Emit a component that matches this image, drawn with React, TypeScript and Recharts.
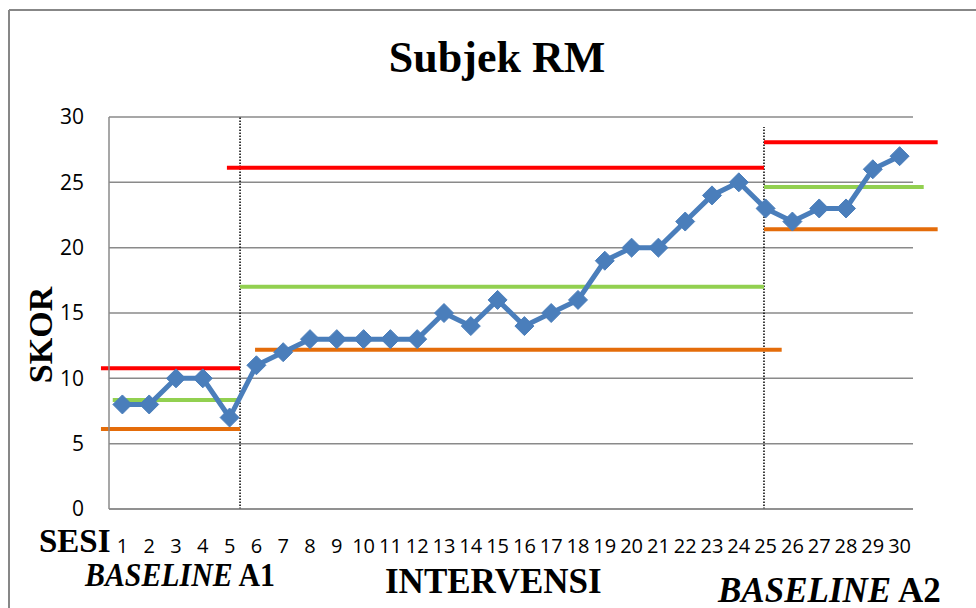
import React from 'react';
import { ComposedChart, Line, XAxis, YAxis, CartesianGrid, ReferenceLine } from 'recharts';

// Sessions and scores
const sessions = [1, 2, 3, 4, 5, 6, 7, 8, 9, 10, 11, 12, 13, 14, 15, 16, 17, 18, 19, 20, 21, 22, 23, 24, 25, 26, 27, 28, 29, 30];
const scores = [8, 8, 10, 10, 7, 11, 12, 13, 13, 13, 13, 13, 15, 14, 16, 14, 15, 16, 19, 20, 20, 22, 24, 25, 23, 22, 23, 23, 26, 27];
const yTicks = [0, 5, 10, 15, 20, 25, 30];

// Phase bands: [xStart, xEnd, value]
const upperLines = [
  [0.2, 5.39, 10.77],
  [4.9, 24.94, 26.12],
  [24.94, 31.42, 28.06],
];
const meanLines = [
  [0.64, 5.34, 8.34],
  [5.39, 24.94, 17.01],
  [24.94, 30.9, 24.64],
];
const lowerLines = [
  [0.2, 5.39, 6.12],
  [5.95, 25.6, 12.19],
  [24.94, 31.42, 21.41],
];
// Phase dividers: [x, top value]
const phaseDividers = [
  [5.39, 30],
  [24.94, 29.23],
];

const data = sessions.map((s, i) => ({ sesi: s, skor: scores[i] }));

const Diamond = (props: any) => {
  const { cx, cy } = props;
  if (cx == null || cy == null) return null;
  const r = 9.5;
  return (
    <polygon
      points={`${cx},${cy - r} ${cx + r},${cy} ${cx},${cy + r} ${cx - r},${cy}`}
      fill="#4a7ebb"
      stroke="#4a7ebb"
      strokeWidth={1}
    />
  );
};

const serif = '"Liberation Serif", "Times New Roman", serif';

export default function App() {
  return (
    <div style={{ position: 'fixed', left: 0, top: 0, width: 976, height: 608, overflow: 'hidden', background: '#fff' }}>
      <ComposedChart
        width={976}
        height={608}
        data={data}
        margin={{ top: 117, right: 63, bottom: 59, left: 49 }}
      >
        <CartesianGrid vertical={false} stroke="#8a8a8a" strokeWidth={1.5} />
        <XAxis
          dataKey="sesi"
          type="number"
          domain={[0.5, 30.5]}
          ticks={sessions}
          interval={0}
          allowDataOverflow
          height={40}
          tickLine={false}
          tickSize={0}
          tickMargin={30}
          axisLine={{ stroke: '#8a8a8a', strokeWidth: 1.5 }}
          tick={{ fill: '#000', fontSize: 20, fontFamily: '"Open Sans", sans-serif' }}
        />
        <YAxis
          domain={[0, 30]}
          ticks={yTicks}
          width={60}
          tickLine={false}
          tickSize={0}
          tickMargin={25}
          axisLine={{ stroke: '#8a8a8a', strokeWidth: 1.5 }}
          tick={{ fill: '#000', fontSize: 21, fontFamily: '"Open Sans", sans-serif' }}
        />
        {phaseDividers.map(([x, top], i) => (
          <ReferenceLine
            key={'d' + i}
            segment={[{ x, y: 0 }, { x, y: top }]}
            stroke="#000"
            strokeWidth={1.5}
            strokeDasharray="1.5 1.5"
            ifOverflow="visible"
          />
        ))}
        {upperLines.map(([a, b, v], i) => (
          <ReferenceLine key={'u' + i} segment={[{ x: a, y: v }, { x: b, y: v }]} stroke="#ff0000" strokeWidth={4} ifOverflow="visible" />
        ))}
        {meanLines.map(([a, b, v], i) => (
          <ReferenceLine key={'m' + i} segment={[{ x: a, y: v }, { x: b, y: v }]} stroke="#92d050" strokeWidth={4} ifOverflow="visible" />
        ))}
        {lowerLines.map(([a, b, v], i) => (
          <ReferenceLine key={'l' + i} segment={[{ x: a, y: v }, { x: b, y: v }]} stroke="#e46c0a" strokeWidth={4} ifOverflow="visible" />
        ))}
        <Line
          dataKey="skor"
          stroke="#4a7ebb"
          strokeWidth={5}
          dot={<Diamond />}
          activeDot={false}
          isAnimationActive={false}
        />
      </ComposedChart>
      <svg width={976} height={608} style={{ position: 'absolute', left: 0, top: 0, pointerEvents: 'none' }}>
        <line x1={9} y1={10} x2={976} y2={10} stroke="#878787" strokeWidth={2} />
        <line x1={9} y1={10} x2={9} y2={608} stroke="#878787" strokeWidth={2} />
        <text x={497} y={72} textAnchor="middle" fontFamily={serif} fontWeight="bold" fontSize={44} fill="#000">Subjek RM</text>
        <text transform="translate(52,335) rotate(-90)" textAnchor="middle" fontFamily={serif} fontWeight="bold" fontSize={34} fill="#000">SKOR</text>
        <text x={39} y={552} fontFamily={serif} fontWeight="bold" fontSize={33} fill="#000">SESI</text>
        <text x={85} y={586} fontFamily={serif} fontWeight="bold" fontSize={34} fill="#000" textLength={190} lengthAdjust="spacingAndGlyphs">
          <tspan fontStyle="italic">BASELINE</tspan> A1
        </text>
        <text x={385} y={593} fontFamily={serif} fontWeight="bold" fontSize={35} fill="#000">INTERVENSI</text>
        <text x={718} y={602} fontFamily={serif} fontWeight="bold" fontSize={35} fill="#000">
          <tspan fontStyle="italic">BASELINE</tspan> A2
        </text>
      </svg>
    </div>
  );
}
